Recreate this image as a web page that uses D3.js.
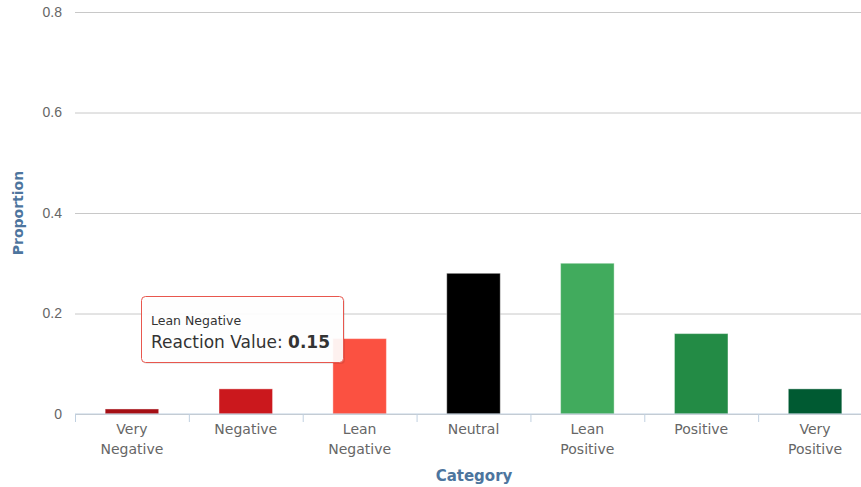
<!DOCTYPE html>
<html>
<head>
<meta charset="utf-8">
<script src="https://cdn.jsdelivr.net/npm/d3@7"></script>
<style>
  body { margin: 0; background: #fff; }
  svg { display: block; font-family: "DejaVu Sans", sans-serif; }
</style>
</head>
<body>
<div id="chart-area"></div>
<script>
// chart data
var categories = ["Very Negative", "Negative", "Lean Negative", "Neutral", "Lean Positive", "Positive", "Very Positive"];
var values = [0.01, 0.05, 0.15, 0.28, 0.30, 0.16, 0.05];
var barColors = ["#a50f15", "#cb181d", "#fb5141", "#000000", "#41ab5d", "#238b45", "#005a32"];
var yTicks = [0, 0.2, 0.4, 0.6, 0.8];

var width = 861, height = 487;
var margin = { top: 12, left: 75, bottom: 73 };
var plotRight = 872; // plot runs slightly past the frame edge

var svg = d3.select("#chart-area")
	.append("svg")
	.attr("width", width)
	.attr("height", height);

var xScale = d3.scaleBand()
	.domain(categories)
	.range([margin.left, plotRight])
	.paddingInner(0.53)
	.paddingOuter(0.265);

var yScale = d3.scaleLinear()
	.domain([0, 0.8])
	.range([height - margin.bottom, margin.top]);

// grid
var yAxis = d3.axisLeft(yScale)
	.tickValues(yTicks)
	.tickSize(-(plotRight - margin.left))
	.tickPadding(13)
	.tickFormat(d => d === 0 ? "0" : d3.format(".1f")(d));

var yAxisG = svg.append("g")
	.attr("class", "y axis")
	.attr("transform", "translate(" + margin.left + ",0)")
	.call(yAxis);
yAxisG.select(".domain").remove();
yAxisG.selectAll(".tick line").attr("stroke", "#c8c8c8");
yAxisG.selectAll(".tick text")
	.attr("fill", "#666")
	.attr("font-size", "14px");

// bars
svg.selectAll("rect.bar")
	.data(categories)
	.enter().append("rect")
	.attr("class", "bar")
	.attr("x", d => xScale(d))
	.attr("y", (d, i) => yScale(values[i]))
	.attr("width", xScale.bandwidth())
	.attr("height", (d, i) => yScale(0) - yScale(values[i]))
	.attr("fill", (d, i) => barColors[i])
	.attr("stroke", "#fff")
	.attr("stroke-opacity", 0.4)
	.attr("stroke-width", 1);

// x axis
var step = xScale.step();
var xAxisG = svg.append("g")
	.attr("class", "x axis")
	.attr("transform", "translate(0," + yScale(0) + ")");

xAxisG.append("line")
	.attr("x1", margin.left)
	.attr("x2", plotRight)
	.attr("stroke", "#c0d0e0");

var boundaries = d3.range(categories.length + 1).map(i => margin.left + i * step);
xAxisG.selectAll("line.tick")
	.data(boundaries)
	.enter().append("line")
	.attr("class", "tick")
	.attr("x1", d => d + 0.5)
	.attr("x2", d => d + 0.5)
	.attr("y1", 0)
	.attr("y2", 8)
	.attr("stroke", "#c0d0e0");

var labels = xAxisG.selectAll("text.label")
	.data(categories)
	.enter().append("text")
	.attr("class", "label")
	.attr("x", d => xScale(d) + xScale.bandwidth() / 2)
	.attr("y", 20)
	.attr("text-anchor", "middle")
	.attr("fill", "#666")
	.attr("font-size", "14px");

labels.each(function (d) {
	var words = d.split(" ");
	var el = d3.select(this);
	words.forEach((w, i) => {
		el.append("tspan")
			.attr("x", xScale(d) + xScale.bandwidth() / 2)
			.attr("dy", i === 0 ? 0 : 20)
			.text(w);
	});
});

// axis titles
svg.append("text")
	.attr("x", 474)
	.attr("y", 481)
	.attr("text-anchor", "middle")
	.attr("fill", "#4d759e")
	.attr("font-weight", "bold")
	.attr("font-size", "15px")
	.text("Category");

svg.append("text")
	.attr("transform", "translate(23," + 213 + ") rotate(-90)")
	.attr("text-anchor", "middle")
	.attr("fill", "#4d759e")
	.attr("font-weight", "bold")
	.attr("font-size", "14px")
	.text("Proportion");

// tooltip for Lean Negative
var tipIndex = 2;
var tipG = svg.append("g")
	.attr("transform", "translate(141,296)");

tipG.append("rect")
	.attr("x", 2).attr("y", 2)
	.attr("width", 202).attr("height", 66)
	.attr("rx", 4)
	.attr("fill", "#000")
	.attr("opacity", 0.08);

tipG.append("rect")
	.attr("x", 0.5).attr("y", 0.5)
	.attr("width", 202).attr("height", 66)
	.attr("rx", 4)
	.attr("fill", "#fff")
	.attr("fill-opacity", 0.92)
	.attr("stroke", "#e8574e")
	.attr("stroke-width", 1);

tipG.append("text")
	.attr("x", 10).attr("y", 29)
	.attr("fill", "#333")
	.attr("font-size", "12.5px")
	.text(categories[tipIndex]);

var tipLine = tipG.append("text")
	.attr("x", 10).attr("y", 52)
	.attr("fill", "#333")
	.attr("font-size", "17px");
tipLine.append("tspan").text("Reaction Value: ");
tipLine.append("tspan").attr("font-weight", "bold").text(d3.format(".2f")(values[tipIndex]));
</script>
</body>
</html>
